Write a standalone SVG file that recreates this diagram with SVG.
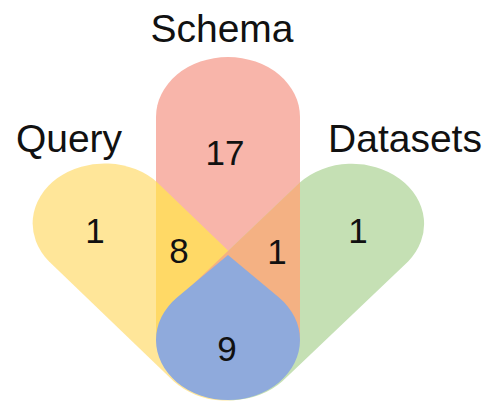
<svg xmlns="http://www.w3.org/2000/svg" xmlns:xlink="http://www.w3.org/1999/xlink" width="484" height="406" viewBox="0 0 484 406">
<style>
.lbl{font-family:"Liberation Sans",Arial,sans-serif;font-size:39px;fill:#111;text-anchor:middle}
.num{font-family:"Liberation Sans",Arial,sans-serif;font-size:35px;fill:#111;text-anchor:middle}
</style>
<defs>
<path id="pQuery" d="M131.3,182.7 L235.3,302.7 A60,60 0 0 1 144.7,381.3 L40.7,261.3 A60,60 0 0 1 131.3,182.7 Z"/>
<path id="pSchema" d="M130,117 A60,60 0 0 1 250,117 L250,335 A60,60 0 0 1 130,335 Z"/>
<path id="pData" d="M249.9,182.5 A60,60 0 0 1 340.1,261.5 L235.1,381.5 A60,60 0 0 1 144.9,302.5 Z"/>
<path id="pBlue" d="M190,255 L232.5,297.6 A60,60 0 1 1 147.5,297.6 Z"/>
<clipPath id="cSchema"><use xlink:href="#pSchema"/></clipPath>
</defs>
<g transform="scale(1.2,1)">
<g id="query"><use xlink:href="#pQuery" fill="#FFE699"/></g>
<g id="schema"><use xlink:href="#pSchema" fill="#F8B5AA"/></g>
<g id="datasets"><use xlink:href="#pData" fill="#C5E0B4"/></g>
<g id="query-schema"><use xlink:href="#pQuery" fill="#FFD966" clip-path="url(#cSchema)"/></g>
<g id="schema-datasets"><use xlink:href="#pData" fill="#F4B183" clip-path="url(#cSchema)"/></g>
<g id="all"><use xlink:href="#pBlue" fill="#8FAADC"/></g>
</g>
<g id="labels">
<text class="lbl" x="222" y="42">Schema</text>
<text class="lbl" x="69" y="152">Query</text>
<text class="lbl" x="405" y="152">Datasets</text>
</g>
<g id="counts">
<text class="num" x="225" y="165">17</text>
<text class="num" x="95" y="243">1</text>
<text class="num" x="179" y="263">8</text>
<text class="num" x="277" y="264">1</text>
<text class="num" x="358" y="243">1</text>
<text class="num" x="227" y="361">9</text>
</g>
<g id="connectors"/>
</svg>
